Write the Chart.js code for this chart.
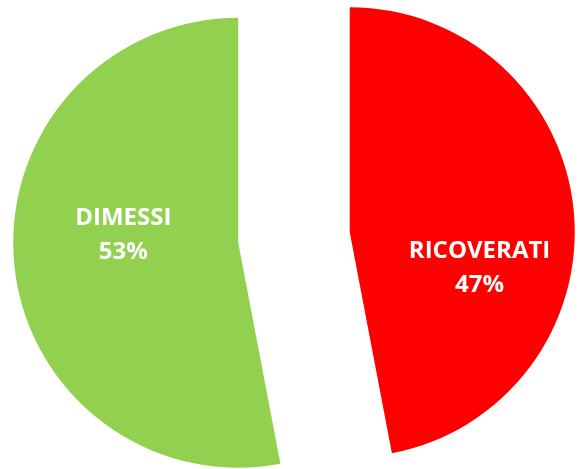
<!DOCTYPE html>
<html>
<head>
<meta charset="utf-8">
<script src="https://cdn.jsdelivr.net/npm/chart.js@4/dist/chart.umd.min.js"></script>
<style>
html,body{margin:0;padding:0;background:#fff;}
#wrap{width:578px;height:469px;}
</style>
</head>
<body>
<div id="wrap"><canvas id="c" width="578" height="469"></canvas></div>
<script>
const categories = ["RICOVERATI", "DIMESSI"];
const values = [47, 53];
const percentLabels = ["47%", "53%"];
const colors = ["#FF0000", "#92D050"];

// exploded-pie styling
const sliceRadius = 225;
const explode = [56, 56];          // how far each slice is pulled out
const labelAngle = [15.6, 184.0];  // label direction from slice vertex (deg)
const labelDist = [0.599, 0.512];  // label distance as fraction of radius
const lineGap = 17;

// pull slices out along their mid-angle (keeps straight edges exact)
const explodePlugin = {
  id: 'explodeSlices',
  afterDatasetsUpdate(chart) {
    const meta = chart.getDatasetMeta(0);
    meta.data.forEach((arc, i) => {
      const mid = (arc.startAngle + arc.endAngle) / 2;
      arc.x += Math.cos(mid) * explode[i];
      arc.y += Math.sin(mid) * explode[i];
    });
  }
};

const labelPlugin = {
  id: 'sliceLabels',
  afterDatasetsDraw(chart) {
    const meta = chart.getDatasetMeta(0);
    const ctx = chart.ctx;
    ctx.save();
    ctx.fillStyle = '#FFFFFF';
    ctx.font = 'bold 24px "Open Sans", sans-serif';
    ctx.textAlign = 'center';
    ctx.textBaseline = 'middle';
    meta.data.forEach((arc, i) => {
      const a = labelAngle[i] * Math.PI / 180;
      const d = labelDist[i] * arc.outerRadius;
      const cx = arc.x + Math.cos(a) * d;
      const cy = arc.y + Math.sin(a) * d;
      ctx.fillText(categories[i], cx, cy - lineGap);
      ctx.fillText(percentLabels[i], cx, cy + lineGap);
    });
    ctx.restore();
  }
};

new Chart(document.getElementById('c'), {
  type: 'pie',
  data: {
    labels: categories,
    datasets: [{
      data: values,
      backgroundColor: colors,
      borderWidth: 0,
      hoverOffset: 0
    }]
  },
  options: {
    responsive: false,
    animation: false,
    radius: sliceRadius,
    layout: { padding: { top: 6, left: 10, right: 0, bottom: 0 } },
    plugins: { legend: { display: false }, tooltip: { enabled: false } },
    events: []
  },
  plugins: [explodePlugin, labelPlugin]
});
</script>
</body>
</html>
